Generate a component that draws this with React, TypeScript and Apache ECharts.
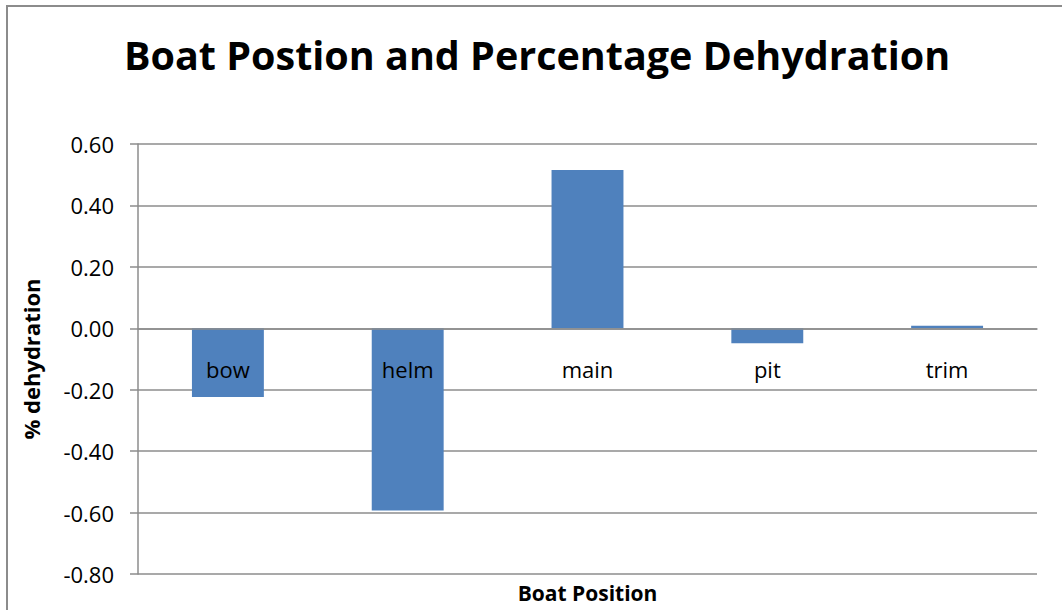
import React, { useEffect, useRef } from "react";
import * as echarts from "echarts";

const categories = ["bow", "helm", "main", "pit", "trim"];
const values = [-0.224, -0.593, 0.515, -0.049, 0.008];
const yTicks = { min: -0.8, max: 0.6, interval: 0.2 };
const titleText = "Boat Postion and Percentage Dehydration";
const xTitle = "Boat Position";
const yTitle = "% dehydration";

export default function App() {
  const ref = useRef<HTMLDivElement>(null);
  useEffect(() => {
    if (!ref.current) return;
    const chart = echarts.init(ref.current, null, { renderer: "svg" });
    const font = "'Open Sans', 'Noto Sans', sans-serif";
    chart.setOption({
      animation: false,
      backgroundColor: "#ffffff",
      textStyle: { fontFamily: font },
      title: {
        text: titleText,
        left: 119,
        top: 30,
        textStyle: { fontSize: 39.5, fontWeight: "bold", color: "#000", fontFamily: font },
      },
      graphic: [
        {
          type: "rect",
          shape: { x: 7, y: 6, width: 1200, height: 800 },
          style: { fill: "none", stroke: "#8c8c8c", lineWidth: 2 },
          silent: true,
        },
      ],
      grid: { left: 138, top: 144, right: 25, bottom: 36, containLabel: false, outerBoundsMode: "none" },
      xAxis: {
        type: "category",
        data: categories,
        z: 5,
        axisLine: { onZero: true, lineStyle: { color: "#8c8c8c", width: 1.5 } },
        axisTick: { show: false },
        axisLabel: { margin: -216, fontSize: 22, color: "#000", fontFamily: font },
        name: xTitle,
        nameLocation: "middle",
        nameGap: 8,
        nameTextStyle: { fontSize: 21, fontWeight: "bold", color: "#000", fontFamily: font },
      },
      yAxis: {
        type: "value",
        min: yTicks.min,
        max: yTicks.max,
        interval: yTicks.interval,
        axisLine: { show: true, lineStyle: { color: "#8c8c8c", width: 1.5 } },
        axisTick: { show: true, length: 8, lineStyle: { color: "#8c8c8c", width: 1.5 } },
        splitLine: { show: true, lineStyle: { color: "#8c8c8c", width: 1.5 } },
        axisLabel: {
          margin: 24,
          fontSize: 22,
          color: "#000",
          fontFamily: font,
          formatter: (v: number) => v.toFixed(2),
        },
        name: yTitle,
        nameLocation: "middle",
        nameRotate: 90,
        nameGap: 96,
        nameTextStyle: { fontSize: 22, fontWeight: "bold", color: "#000", fontFamily: font },
      },
      series: [
        {
          type: "bar",
          data: values,
          barWidth: "40%",
          itemStyle: { color: "#4f81bd" },
        },
      ],
    });
    return () => chart.dispose();
  }, []);
  return (
    <div
      ref={ref}
      style={{ position: "fixed", left: 0, top: 0, width: 1062, height: 610 }}
    />
  );
}
